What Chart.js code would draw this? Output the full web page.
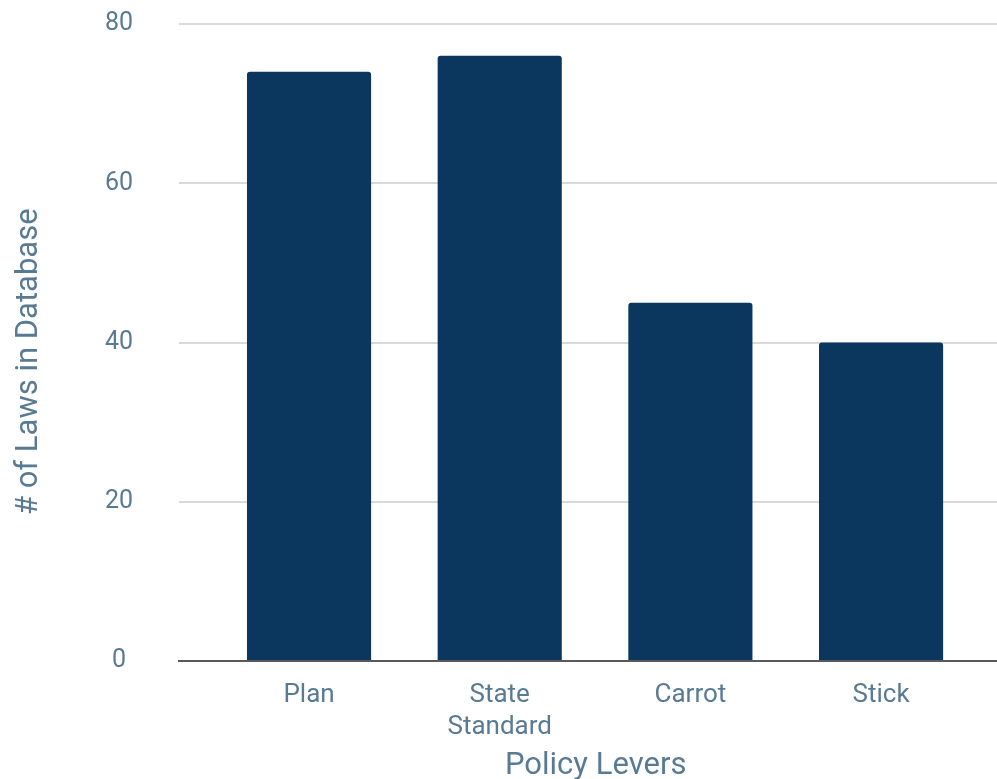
<!DOCTYPE html>
<html>
<head>
<meta charset="utf-8">
<script src="https://cdn.jsdelivr.net/npm/chart.js@4/dist/chart.umd.min.js"></script>
<style>
html,body{margin:0;padding:0;background:#fff;}
#wrap{width:997px;height:779px;position:relative;}
</style>
</head>
<body>
<div id="wrap"><canvas id="c"></canvas></div>
<script>
const categories = [["Plan"], ["State", "Standard"], ["Carrot"], ["Stick"]];
const lawCounts = [74, 76, 45, 40];
const yTicks = [0, 20, 40, 60, 80];
const xTitle = "Policy Levers";
const yTitle = "# of Laws in Database";

const textColor = "#587a93";
const fontFamily = "Roboto, 'DejaVu Sans', sans-serif";

new Chart(document.getElementById('c'), {
  type: 'bar',
  data: {
    labels: categories,
    datasets: [{
      data: lawCounts,
      backgroundColor: '#0b375f',
      borderRadius: {topLeft: 3, topRight: 3, bottomLeft: 0, bottomRight: 0},
      borderSkipped: 'start',
      barPercentage: 0.651,
      categoryPercentage: 1.0
    }]
  },
  options: {
    responsive: true,
    maintainAspectRatio: false,
    animation: false,
    layout: {padding: {top: 24, right: 0, left: 0, bottom: 0}},
    plugins: {legend: {display: false}, tooltip: {enabled: false}},
    scales: {
      x: {
        grid: {display: false, drawTicks: false},
        border: {display: true, color: '#5a5a5a', width: 2},
        ticks: {color: textColor, font: {family: fontFamily, size: 26, lineHeight: 1.23}, padding: 19, maxRotation: 0, autoSkip: false},
        title: {display: true, text: "  " + xTitle, color: textColor, font: {family: fontFamily, size: 31}, padding: {top: 0, bottom: -6}},
        afterFit: (s) => { s.height = 118; s.paddingLeft = 0; s.paddingRight = 0; },
        afterBuildTicks: (s) => { s._startValue = -0.682; s._valueRange = 4.29; }
      },
      y: {
        min: 0, max: 80,
        afterBuildTicks: (s) => { s.ticks = yTicks.map(v => ({value: v})); },
        grid: {color: (ctx) => ctx.tick && ctx.tick.value === 0 ? 'rgba(0,0,0,0)' : '#d9d9d9', lineWidth: 2, drawTicks: false},
        border: {display: false},
        ticks: {color: textColor, font: {family: fontFamily, size: 25}, crossAlign: 'center', padding: 46},
        title: {display: true, text: yTitle + "     ", color: textColor, font: {family: fontFamily, size: 31}, padding: {top: 11, bottom: 0}},
        afterFit: (s) => { s.width = 179; s.paddingTop = 0; s.paddingBottom = 0; }
      }
    }
  }
});
</script>
</body>
</html>
